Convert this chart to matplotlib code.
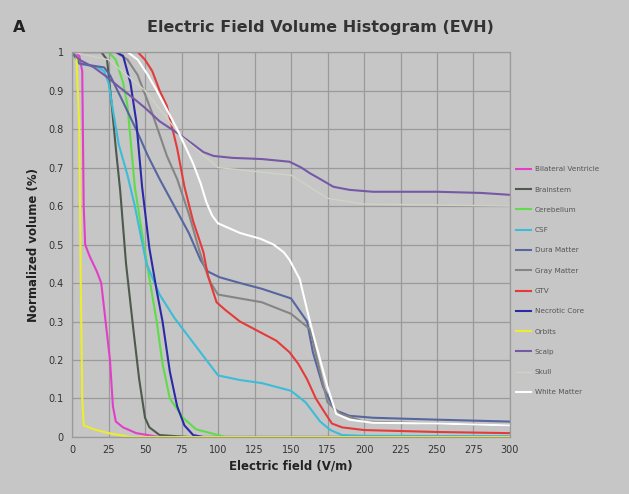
import matplotlib
matplotlib.use("Agg")
import matplotlib.pyplot as plt

# Electric field (V/m) / normalized volume pairs
bv_x = [0, 5, 7, 8, 9, 12, 17, 20, 23, 26, 28, 30, 35, 44, 60, 300]
bv_y = [1, 0.99, 0.95, 0.6, 0.5, 0.47, 0.43, 0.4, 0.3, 0.2, 0.08, 0.04, 0.025, 0.01, 0, 0]

brainstem_x = [0, 20, 24, 27, 30, 33, 37, 42, 46, 50, 53, 60, 80, 300]
brainstem_y = [1, 1, 0.98, 0.87, 0.75, 0.64, 0.45, 0.28, 0.15, 0.05, 0.025, 0.005, 0, 0]

cerebellum_x = [0, 25, 30, 35, 38, 43, 50, 58, 62, 67, 76, 85, 95, 105, 300]
cerebellum_y = [1, 1, 0.98, 0.92, 0.86, 0.65, 0.48, 0.3, 0.19, 0.1, 0.05, 0.02, 0.01, 0, 0]

csf_x = [0, 5, 18, 22, 25, 28, 32, 38, 43, 51, 60, 70, 80, 90, 100, 115, 130, 150, 160,
         170, 177, 185, 200, 300]
csf_y = [1, 0.97, 0.96, 0.95, 0.92, 0.85, 0.76, 0.68, 0.6, 0.45, 0.37, 0.31, 0.26, 0.21,
         0.16, 0.148, 0.14, 0.12, 0.09, 0.04, 0.018, 0.005, 0.003, 0.002]

dura_x = [0, 5, 22, 26, 35, 45, 52, 60, 70, 80, 88, 93, 101, 115, 130, 150, 161, 165,
          172, 180, 190, 206, 250, 300]
dura_y = [1, 0.97, 0.96, 0.94, 0.87, 0.79, 0.73, 0.67, 0.6, 0.53, 0.46, 0.43, 0.415, 0.4,
          0.385, 0.36, 0.3, 0.22, 0.13, 0.07, 0.055, 0.05, 0.045, 0.04]

gray_x = [0, 30, 38, 45, 55, 65, 72, 80, 86, 90, 95, 100, 115, 130, 150, 163, 168, 175,
          184, 200, 250, 300]
gray_y = [1, 1, 0.98, 0.94, 0.84, 0.73, 0.67, 0.58, 0.5, 0.45, 0.4, 0.37, 0.36, 0.35,
          0.32, 0.28, 0.2, 0.09, 0.06, 0.04, 0.035, 0.03]

gtv_x = [0, 45, 50, 55, 60, 65, 72, 77, 83, 90, 93, 99, 105, 115, 130, 140, 149, 155,
         161, 167, 172, 178, 185, 200, 250, 300]
gtv_y = [1, 1, 0.98, 0.95, 0.9, 0.86, 0.75, 0.65, 0.56, 0.48, 0.42, 0.35, 0.33, 0.3,
         0.27, 0.25, 0.22, 0.19, 0.15, 0.1, 0.07, 0.035, 0.025, 0.018, 0.013, 0.01]

necrotic_x = [0, 30, 35, 40, 44, 48, 53, 58, 62, 67, 72, 77, 83, 90, 300]
necrotic_y = [1, 1, 0.99, 0.92, 0.82, 0.65, 0.49, 0.38, 0.3, 0.17, 0.08, 0.03, 0.005, 0, 0]

orbits_x = [0, 3, 5, 6, 7, 8, 15, 25, 40, 300]
orbits_y = [1, 0.99, 0.8, 0.4, 0.1, 0.03, 0.02, 0.01, 0, 0]

scalp_x = [0, 5, 15, 24, 32, 42, 50, 60, 72, 83, 90, 97, 110, 130, 149, 157, 163, 170,
           179, 190, 206, 250, 280, 300]
scalp_y = [1, 0.98, 0.96, 0.935, 0.91, 0.88, 0.855, 0.82, 0.79, 0.76, 0.74, 0.73, 0.725,
           0.722, 0.715, 0.7, 0.685, 0.67, 0.65, 0.642, 0.637, 0.637, 0.634, 0.629]

skull_x = [0, 25, 50, 75, 100, 150, 175, 200, 300]
skull_y = [1, 0.98, 0.9, 0.78, 0.7, 0.68, 0.62, 0.605, 0.6]

white_x = [0, 38, 45, 52, 58, 65, 72, 83, 88, 92, 96, 100, 106, 115, 129, 138, 145, 149,
           156, 161, 165, 170, 175, 181, 190, 206, 250, 300]
white_y = [1, 1, 0.98, 0.94, 0.9, 0.85, 0.8, 0.71, 0.66, 0.61, 0.575, 0.555, 0.545, 0.53,
           0.515, 0.5, 0.48, 0.46, 0.41, 0.33, 0.27, 0.2, 0.13, 0.06, 0.045, 0.037, 0.035,
           0.03]

series = [
    ("Bilateral Ventricle", bv_x, bv_y, "#e23fc8"),
    ("Brainstem", brainstem_x, brainstem_y, "#4d5a4d"),
    ("Cerebellum", cerebellum_x, cerebellum_y, "#5fdc4a"),
    ("CSF", csf_x, csf_y, "#3cbcd8"),
    ("Dura Matter", dura_x, dura_y, "#56669e"),
    ("Gray Matter", gray_x, gray_y, "#858585"),
    ("GTV", gtv_x, gtv_y, "#e63a3a"),
    ("Necrotic Core", necrotic_x, necrotic_y, "#2a2aa6"),
    ("Orbits", orbits_x, orbits_y, "#ecec30"),
    ("Scalp", scalp_x, scalp_y, "#7658a6"),
    ("Skull", skull_x, skull_y, "#cfd3c4"),
    ("White Matter", white_x, white_y, "#ffffff"),
]

bg = "#c6c6c6"
grid_c = "#9a9a9a"

fig = plt.figure(figsize=(6.29, 4.94), dpi=100, facecolor=bg)
ax = fig.add_axes([0.1145, 0.1154, 0.6963, 0.7793], facecolor=bg)

for name, xs, ys, col in series:
    lw = 1.0 if name == "Skull" else 1.5
    ax.plot(xs, ys, color=col, lw=lw, label=name)

ax.set_xlim(0, 300)
ax.set_ylim(0, 1)
ax.set_xticks(range(0, 301, 25))
ax.set_yticks([i / 10 for i in range(11)])
ax.set_yticklabels(["0", "0.1", "0.2", "0.3", "0.4", "0.5", "0.6", "0.7", "0.8", "0.9", "1"])
ax.grid(True, color=grid_c, lw=0.9)
ax.set_axisbelow(True)
for s in ax.spines.values():
    s.set_color(grid_c)
    s.set_linewidth(0.9)
ax.tick_params(labelsize=7, length=0, pad=6, colors="#333333")

ax.set_xlabel("Electric field (V/m)", fontsize=8.5, fontweight="bold", color="#222222", labelpad=3)
ax.set_ylabel("Normalized volume (%)", fontsize=8.5, fontweight="bold", color="#222222", labelpad=6)

fig.text(0.51, 0.945, "Electric Field Volume Histogram (EVH)", ha="center", va="center",
         fontsize=11.5, fontweight="bold", color="#333333")
fig.text(0.03, 0.945, "A", ha="center", va="center", fontsize=11.5, fontweight="bold",
         color="#222222")

ax.legend(loc="upper left", bbox_to_anchor=(1.0, 0.72), frameon=False, fontsize=5.2,
          labelspacing=1.97, handlelength=2.0, handletextpad=0.5, labelcolor="#555555")

fig.savefig("out.png", dpi=100, facecolor=bg)
